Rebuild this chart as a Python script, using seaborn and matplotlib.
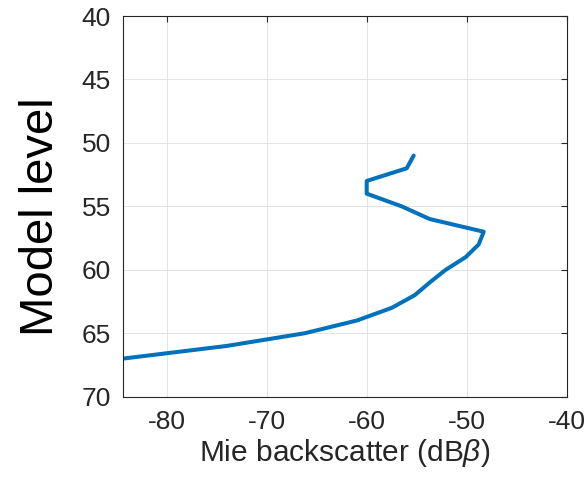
import matplotlib
matplotlib.use("Agg")
import matplotlib.pyplot as plt
import seaborn as sns
import pandas as pd

# Data
model_level = [51, 52, 53, 54, 55, 56, 57, 58, 59, 60, 61, 62, 63, 64, 65, 66, 67]
mie_backscatter = [-55.3, -56.0, -60.0, -60.0, -56.5, -53.7, -48.3, -48.8, -50.1,
                   -52.1, -53.7, -55.2, -57.5, -61.0, -66.2, -74.0, -84.4]
x_ticks = [-80, -70, -60, -50, -40]
y_ticks = [40, 45, 50, 55, 60, 65, 70]

sns.set_style("white")
plt.rcParams['font.family'] = ['Liberation Sans', 'DejaVu Sans']
plt.rcParams['mathtext.fontset'] = 'custom'
plt.rcParams['mathtext.it'] = 'Liberation Sans:italic'
plt.rcParams['mathtext.rm'] = 'Liberation Sans'
plt.rcParams['axes.unicode_minus'] = False

df = pd.DataFrame({"level": model_level, "mie": mie_backscatter})

fig = plt.figure(figsize=(5.88, 4.79), dpi=100)
ax = fig.add_axes([122.7 / 588, 1 - 396.7 / 479, 444 / 588, 380.7 / 479])

sns.lineplot(data=df, x="mie", y="level", sort=False, estimator=None,
             color="#0072BD", linewidth=2.9, ax=ax, clip_on=True)

ax.set_xlim(-84.4, -40)
ax.set_ylim(70, 40)
ax.set_xticks(x_ticks)
ax.set_yticks(y_ticks)

dark = "#262626"
ax.grid(True, color="#DEDEDE", linewidth=0.6)
ax.set_axisbelow(True)
for s in ax.spines.values():
    s.set_color(dark)
    s.set_linewidth(0.8)
    s.set_visible(True)

ax.tick_params(axis="both", direction="in", length=4, width=0.8, color=dark,
               labelcolor=dark, labelsize=19, top=True, right=True)
ax.tick_params(axis="x", pad=9.5)
ax.tick_params(axis="y", pad=8.5)

ax.set_xlabel(r"Mie backscatter (dB$\it{\beta}$)", fontsize=21.5, color=dark, labelpad=2)
ax.set_ylabel("Model level", fontsize=34, color="black")
ax.yaxis.set_label_coords(-0.1354, 0.472)

fig.savefig("out.png", dpi=100)
